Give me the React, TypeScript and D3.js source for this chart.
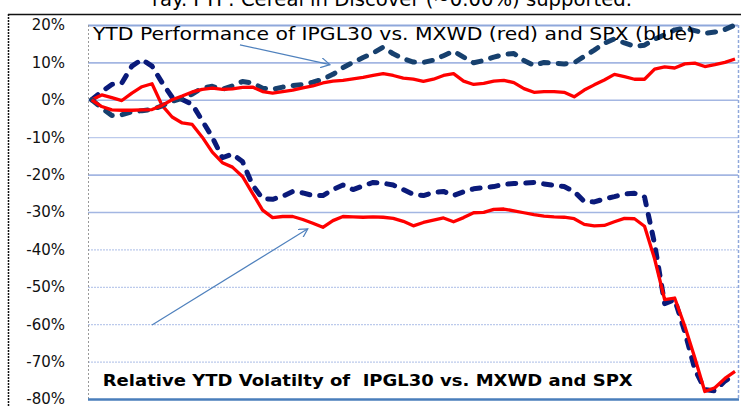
import React, { useEffect, useRef } from 'react';
import * as d3 from 'd3';

// weekly points, index 0..64
const perfMxwd = [0, -1.8, -2.7, -2.8, -2.8, -2.7, -2.6, -1.5, 0.0, 1.0, 2.1, 2.8, 3.1, 2.8, 2.9, 3.3, 3.4, 2.2, 1.8, 2.2,
  2.6, 3.2, 3.7, 4.5, 5.0, 5.2, 5.6, 6.0, 6.5, 7.0, 6.5, 5.8, 5.5, 4.9, 5.5, 6.5, 7.0, 5.0, 4.1, 4.4,
  5.0, 5.2, 4.6, 3.0, 2.0, 2.2, 2.2, 2.0, 0.8, 2.6, 4.0, 5.3, 6.8, 6.2, 5.5, 5.5, 8.2, 8.8, 8.5, 9.6,
  9.8, 8.9, 9.4, 10.0, 10.9];
const perfSpx = [0, -2.2, -4.2, -4.0, -3.2, -2.9, -2.6, -1.6, -0.4, 0.4, 1.5, 3.2, 3.6, 2.8, 3.7, 4.9, 4.5, 3.1, 2.8, 3.4,
  3.8, 4.1, 4.7, 5.5, 6.8, 8.6, 10.0, 11.3, 12.5, 14.1, 12.3, 11.0, 10.1, 10.0, 10.6, 11.8, 13.0, 11.4, 9.9, 10.5,
  11.4, 12.1, 12.4, 10.5, 9.2, 10.0, 9.8, 9.6, 9.9, 11.6, 13.3, 15.1, 16.3, 15.2, 14.3, 14.6, 16.2, 17.4, 18.7, 19.1,
  18.5, 17.8, 18.1, 18.8, 20.0];
const volMxwd = [0, 1.3, 0.6, -0.2, 1.8, 3.5, 4.3, -1.5, -4.6, -6.2, -6.6, -10.0, -14.0, -16.8, -18.0, -20.5, -25.0, -29.5, -31.5, -31.2,
  -31.2, -32.0, -33.0, -34.1, -32.3, -31.2, -31.3, -31.4, -31.3, -31.4, -31.7, -32.5, -33.7, -32.8, -32.2, -31.6, -32.6, -31.5, -30.2, -30.1,
  -29.3, -29.2, -29.7, -30.2, -30.7, -31.1, -31.3, -31.4, -31.8, -33.3, -33.7, -33.6, -32.6, -31.7, -31.8, -33.8, -42.5, -53.4, -53.0, -60.5,
  -69.0, -78.0, -77.0, -74.5, -72.6];
const volSpx = [0, 2.2, 4.1, 4.5, 9.0, 10.8, 9.0, 4.6, 0.7, 0.1, -1.2, -5.6, -10.0, -15.5, -14.5, -16.5, -22.8, -26.4, -26.6, -25.8,
  -24.5, -24.9, -25.6, -25.6, -24.0, -22.8, -24.0, -23.0, -22.1, -22.3, -22.8, -24.0, -25.3, -25.6, -24.8, -24.5, -25.6, -24.6, -23.8, -23.5,
  -23.2, -22.6, -22.4, -22.3, -22.1, -22.5, -22.9, -23.2, -24.5, -27.2, -27.3, -26.5, -25.9, -25.2, -25.0, -26.0, -38.5, -54.5, -53.4, -62.0,
  -72.0, -77.5, -77.8, -75.2, -73.5];

const yTicks = [20, 10, 0, -10, -20, -30, -40, -50, -60, -70, -80];

const topNote = 'YTD Performance of IPGL30 vs. MXWD (red) and SPX (blue)';
const bottomNote = 'Relative YTD Volatilty of  IPGL30 vs. MXWD and SPX';
const cutTitle = 'ray. FTP: Cereal in Discover (~0.00%) supported.';

const W = 741;
const H = 407;

export default function App() {
  const ref = useRef<SVGSVGElement>(null);

  useEffect(() => {
    const svg = d3.select(ref.current);
    svg.selectAll('*').remove();

    const left = 88, right = 738, top = 25, bottom = 399;
    const x = d3.scaleLinear().domain([0, perfMxwd.length - 1]).range([91.7, 735]);
    const y = d3.scaleLinear().domain([-80, 20]).range([bottom, top]);

    svg.append('rect').attr('width', W).attr('height', H).attr('fill', '#fff');

    // title of the page above, cut by the crop
    svg.append('text')
      .attr('x', 152).attr('y', 6)
      .attr('font-family', 'DejaVu Sans').attr('font-size', 19)
      .attr('textLength', 480).attr('lengthAdjust', 'spacingAndGlyphs')
      .text(cutTitle);

    // outer frame
    svg.append('line').attr('x1', 8).attr('x2', W).attr('y1', 14.5).attr('y2', 14.5)
      .attr('stroke', '#111').attr('stroke-width', 1.5);
    svg.append('line').attr('x1', 8.5).attr('x2', 8.5).attr('y1', 14).attr('y2', H)
      .attr('stroke', '#111').attr('stroke-width', 1.5).attr('stroke-dasharray', '2 1');

    // grid lines
    const grid = svg.append('g').attr('transform', `translate(${left},0)`)
      .call(d3.axisLeft(y).tickValues(yTicks).tickSize(-(right - left)).tickFormat(() => ''));
    grid.select('.domain').remove();
    grid.selectAll('.tick line')
      .attr('stroke', (d: any) => ([10, 0, -20, -30].includes(d) ? '#a3b6e2' : '#bccaec'))
      .attr('stroke-width', (d: any) => ([10, 0, -20, -30].includes(d) ? 1.6 : 1.2))
      .attr('stroke-dasharray', (d: any) => ([-40, -50, -60, -70].includes(d) ? '2 1' : null));
    grid.selectAll('.tick').filter((d: any) => d === 20).select('line')
      .attr('stroke', '#8fa8db').attr('stroke-width', 2);

    // axis frame
    svg.append('line').attr('x1', left + 0.5).attr('x2', left + 0.5).attr('y1', top).attr('y2', bottom)
      .attr('stroke', '#999').attr('stroke-dasharray', '2 2');
    svg.append('line').attr('x1', right + 0.5).attr('x2', right + 0.5).attr('y1', top).attr('y2', bottom)
      .attr('stroke', '#8fa8db').attr('stroke-width', 1.5).attr('stroke-dasharray', '3 2');
    svg.append('line').attr('x1', left).attr('x2', right + 1).attr('y1', bottom + 0.5).attr('y2', bottom + 0.5)
      .attr('stroke', '#4a7ebb').attr('stroke-width', 2.5);

    // y tick labels
    const axis = svg.append('g').attr('transform', 'translate(65,0)')
      .call(d3.axisLeft(y).tickValues(yTicks).tickSize(0).tickPadding(0).tickFormat(d => `${d}%`));
    axis.select('.domain').remove();
    axis.selectAll('text')
      .attr('font-family', 'DejaVu Sans').attr('font-size', 15).attr('fill', '#111');

    const line = d3.line<number>().x((d, i) => x(i)).y(d => y(d));

    const dashed = (data: number[], color: string) =>
      svg.append('path').attr('d', line(data)).attr('fill', 'none')
        .attr('stroke', color).attr('stroke-width', 5)
        .attr('stroke-dasharray', '8 10').attr('stroke-linecap', 'round').attr('stroke-linejoin', 'round');
    const solid = (data: number[]) =>
      svg.append('path').attr('d', line(data)).attr('fill', 'none')
        .attr('stroke', '#ff0000').attr('stroke-width', 3.3).attr('stroke-linejoin', 'round');

    dashed(volSpx, '#0a1a7a');
    solid(volMxwd);
    dashed(perfSpx, '#17406e');
    solid(perfMxwd);

    // annotation arrows
    const defs = svg.append('defs');
    defs.append('marker').attr('id', 'arr').attr('viewBox', '0 0 10 10')
      .attr('refX', 9).attr('refY', 5).attr('markerWidth', 10).attr('markerHeight', 10)
      .attr('markerUnits', 'userSpaceOnUse').attr('orient', 'auto')
      .append('path').attr('d', 'M0,0 L9,5 L0,10').attr('fill', 'none')
      .attr('stroke', '#4f81bd').attr('stroke-width', 1.2);

    svg.append('line')
      .attr('x1', x(14.75)).attr('y1', y(14.7)).attr('x2', x(23.7)).attr('y2', y(9.4))
      .attr('stroke', '#4f81bd').attr('stroke-width', 1.2).attr('marker-end', 'url(#arr)');
    svg.append('line')
      .attr('x1', x(6.0)).attr('y1', y(-60.2)).attr('x2', x(21.5)).attr('y2', y(-34.5))
      .attr('stroke', '#4f81bd').attr('stroke-width', 1.2).attr('marker-end', 'url(#arr)');

    svg.append('text')
      .attr('x', x(0.12)).attr('y', y(16.0))
      .attr('font-family', 'DejaVu Sans').attr('font-size', 17).attr('fill', '#000')
      .attr('textLength', 602).attr('lengthAdjust', 'spacingAndGlyphs')
      .text(topNote);
    svg.append('text')
      .attr('x', x(1.1)).attr('y', y(-76.4))
      .attr('font-family', 'DejaVu Sans').attr('font-size', 15).attr('font-weight', 'bold').attr('fill', '#000')
      .attr('textLength', 530).attr('lengthAdjust', 'spacingAndGlyphs')
      .style('white-space', 'pre')
      .text(bottomNote);
  }, []);

  return (
    <svg ref={ref} width={W} height={H} style={{ position: 'absolute', left: 0, top: 0 }} />
  );
}
